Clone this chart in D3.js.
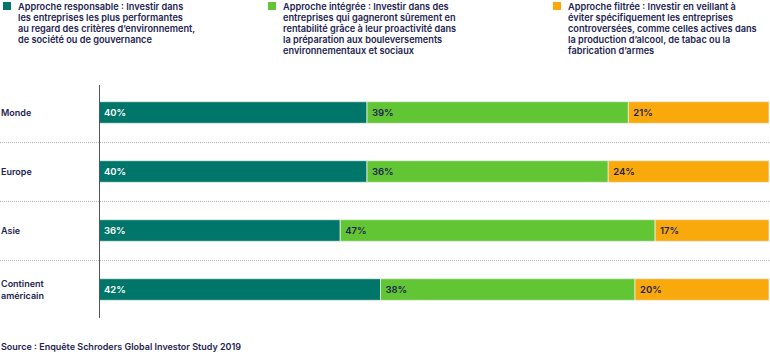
<!DOCTYPE html>
<html>
<head>
<meta charset="utf-8">
<script src="https://cdn.jsdelivr.net/npm/d3@7"></script>
<style>
  body { margin: 0; background: #fff; }
  text { font-family: Inter, "Noto Sans", sans-serif; }
</style>
</head>
<body>
<script>
var regions = ["Monde", "Europe", "Asie", "Continent américain"];
var regionLines = [["Monde"], ["Europe"], ["Asie"], ["Continent", "américain"]];
var series = ["responsable", "integree", "filtree"];
var responsable = [40, 40, 36, 42];
var integree = [39, 36, 47, 38];
var filtree = [21, 24, 17, 20];
var colors = ["#00766b", "#62c534", "#f9a90b"];
var labelColors = ["#ffffff", "#1e2452", "#1e2452"];
var legendTexts = [
  ["Approche responsable : Investir dans", "les entreprises les plus performantes", "au regard des critères d’environnement,", "de société ou de gouvernance"],
  ["Approche intégrée : Investir dans des", "entreprises qui gagneront sûrement en", "rentabilité grâce à leur proactivité dans", "la préparation aux bouleversements", "environnementaux et sociaux"],
  ["Approche filtrée : Investir en veillant à", "éviter spécifiquement les entreprises", "controversées, comme celles actives dans", "la production d’alcool, de tabac ou la", "fabrication d’armes"]
];
var source = "Source : Enquête Schroders Global Investor Study 2019";

var width = 770, height = 354;
var navy = "#1e2452";

var svg = d3.select("body").append("svg")
    .attr("width", width)
    .attr("height", height);

// Legend
var legendX = [3, 268, 553];
legendTexts.forEach(function(lines, i) {
  var g = svg.append("g").attr("transform", "translate(" + legendX[i] + ",0)");
  g.append("rect").attr("x", 0).attr("y", 2).attr("width", 8).attr("height", 8).attr("fill", colors[i]);
  g.append("text")
    .attr("fill", navy)
    .attr("font-size", 9.2)
    .attr("font-weight", 600)
    .selectAll("tspan")
    .data(lines)
    .enter()
    .append("tspan")
    .attr("x", 15)
    .attr("y", function(d, j) { return 9.5 + j * 11; })
    .text(function(d) { return d; });
});

// Stack data
var rows = regions.map(function(r, i) {
  return { region: r, responsable: responsable[i], integree: integree[i], filtree: filtree[i] };
});
var stacked = d3.stack().keys(series)(rows);

var x = d3.scaleLinear().domain([0, 100]).range([99, 769]);
var y = d3.scaleBand().domain(regions).range([83, 319]).paddingInner(0).paddingOuter(0);
var barH = 21.5;

// Dotted separators
svg.selectAll("line.sep")
  .data(regions.slice(1))
  .enter()
  .append("line")
  .attr("class", "sep")
  .attr("x1", 0).attr("x2", width)
  .attr("y1", function(d) { return Math.round(y(d)) + 0.5; })
  .attr("y2", function(d) { return Math.round(y(d)) + 0.5; })
  .attr("stroke", "#b5b5b5")
  .attr("stroke-width", 1)
  .attr("stroke-dasharray", "1,1");

// Bars
var layers = svg.selectAll("g.layer")
  .data(stacked)
  .enter()
  .append("g")
  .attr("class", "layer");

layers.selectAll("rect")
  .data(function(d) { return d; })
  .enter()
  .append("rect")
  .attr("x", function(d) { return x(d[0]); })
  .attr("width", function(d) { return x(d[1]) - x(d[0]); })
  .attr("y", function(d) { return y(d.data.region) + y.bandwidth() / 2 - barH / 2; })
  .attr("height", barH)
  .attr("fill", function(d, i, nodes) { return colors[d3.select(nodes[i].parentNode).datum().index]; })
  .attr("stroke", "#e8f0e8")
  .attr("stroke-width", 0.8);

layers.selectAll("text")
  .data(function(d) { return d.map(function(v) { return { v: v, idx: d.index }; }); })
  .enter()
  .append("text")
  .attr("x", function(d) { return x(d.v[0]) + 5; })
  .attr("y", function(d) { return y(d.v.data.region) + y.bandwidth() / 2 + 3.5; })
  .attr("fill", function(d) { return labelColors[d.idx]; })
  .attr("font-size", 9.5)
  .attr("font-weight", 600)
  .text(function(d) { return (d.v[1] - d.v[0]) + "%"; });

// Axis line
svg.append("line")
  .attr("x1", 99.5).attr("x2", 99.5)
  .attr("y1", 85).attr("y2", 318)
  .attr("stroke", "#555")
  .attr("stroke-width", 1);

// Category labels
regionLines.forEach(function(lines, i) {
  var cy = y(regions[i]) + y.bandwidth() / 2;
  svg.append("text")
    .attr("fill", navy)
    .attr("font-size", 9)
    .attr("font-weight", 600)
    .selectAll("tspan")
    .data(lines)
    .enter()
    .append("tspan")
    .attr("x", 1)
    .attr("y", function(d, j) { return cy + 3.5 + (j - (lines.length - 1) / 2) * 11.5; })
    .text(function(d) { return d; });
});

// Source
svg.append("text")
  .attr("x", 1)
  .attr("y", 350)
  .attr("fill", navy)
  .attr("font-size", 9)
  .attr("font-weight", 600)
  .text(source);
</script>
</body>
</html>
